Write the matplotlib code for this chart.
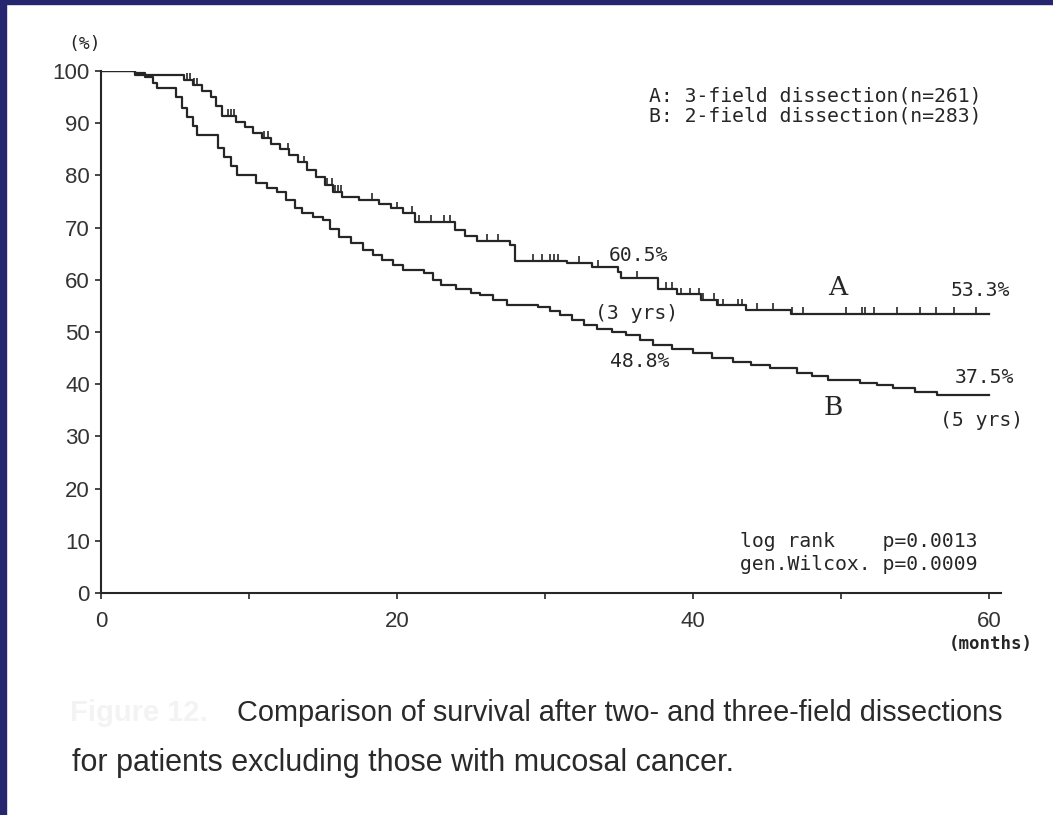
import matplotlib
matplotlib.use("Agg")
import matplotlib.pyplot as plt
import numpy as np

# survival curves (months, % surviving)

a_months = [0, 2.3, 5.6, 6.2, 6.8, 7.4, 7.8, 8.2, 9.1, 9.7, 10.3, 10.9, 11.5, 12.1,
            12.7, 13.3, 13.9, 14.5, 15.1, 15.7, 16.3, 17.4, 18.8, 19.6, 20.4, 21.2,
            23.9, 24.6, 25.4, 27.6, 28.0, 31.5, 33.2, 34.9, 35.1, 37.6, 38.9, 40.5,
            41.6, 43.6, 46.6, 60]
a_surv = [100, 99.2, 98.3, 97.4, 96.2, 95.0, 93.2, 91.4, 90.3, 89.2, 88.2, 87.2, 86.1, 85.0,
          83.9, 82.5, 81.0, 79.6, 78.2, 76.8, 75.9, 75.3, 74.6, 73.7, 72.8, 71.1,
          69.6, 68.3, 67.4, 66.7, 63.6, 63.2, 62.4, 61.5, 60.3, 58.3, 57.2, 56.1,
          55.1, 54.2, 53.5, 53.5]

b_months = [0, 2.3, 3.0, 3.5, 3.8, 5.1, 5.5, 5.8, 6.2, 6.5, 7.9, 8.3, 8.8, 9.2,
            10.5, 11.2, 11.9, 12.5, 13.1, 13.6, 14.3, 15.0, 15.5, 16.1, 16.9, 17.7,
            18.4, 19.0, 19.7, 20.4, 21.8, 22.4, 23.0, 24.0, 25.0, 25.6, 26.5, 27.4,
            29.5, 30.3, 31.0, 31.8, 32.6, 33.5, 34.5, 35.5, 36.4, 37.3, 38.6, 40.0,
            41.3, 42.7, 43.9, 45.2, 47.0, 48.0, 49.1, 51.3, 52.4, 53.5, 55.0, 56.5, 60]
b_surv = [100, 99.6, 98.8, 97.7, 96.7, 95.0, 93.0, 91.2, 89.5, 87.7, 85.2, 83.5, 81.8, 80.1,
          78.5, 77.6, 76.8, 75.2, 73.8, 72.8, 72.1, 71.5, 69.8, 68.2, 67.0, 65.7,
          64.7, 63.8, 62.8, 61.9, 61.3, 60.0, 59.0, 58.2, 57.5, 57.1, 56.2, 55.2,
          54.8, 54.0, 53.3, 52.3, 51.3, 50.6, 50.0, 49.4, 48.5, 47.5, 46.7, 46.0,
          45.1, 44.3, 43.7, 43.1, 42.1, 41.5, 40.8, 40.2, 39.8, 39.3, 38.6, 37.9, 37.9]

# censored observations on curve A
a_censor = [5.8, 6.0, 6.3, 6.5, 8.6, 8.8, 9.0, 11.0, 11.3, 12.6, 13.3, 13.7, 15.3, 15.6,
            15.8, 16.0, 16.2, 18.3, 20.0, 21.0, 21.5, 22.3, 23.2, 23.6, 26.1, 26.8, 29.2,
            29.8, 30.3, 30.6, 30.9, 32.3, 33.6, 36.2, 38.2, 38.6, 39.2, 39.8, 40.4,
            40.7, 41.4, 41.7, 42.0, 43.0, 43.3, 44.3, 45.4, 46.7, 47.4, 50.3, 51.4,
            51.6, 52.2, 53.8, 55.3, 56.4, 57.6, 59.1]

x_ticks = [0, 10, 20, 30, 40, 50, 60]
x_labels = ["0", "", "20", "", "40", "", "60"]
y_ticks = [0, 10, 20, 30, 40, 50, 60, 70, 80, 90, 100]

ink = "#262626"
mono = "DejaVu Sans Mono"
sans = "Liberation Sans"
mono_size = 14.2

fig = plt.figure(figsize=(10.53, 8.15), dpi=100, facecolor="white")

# navy frame on left and top
fig.patches.append(plt.Rectangle((0, 0), 6 / 1053, 1, transform=fig.transFigure,
                                 color="#262670", zorder=10))
fig.patches.append(plt.Rectangle((0, 1 - 4 / 815), 1, 4 / 815, transform=fig.transFigure,
                                 color="#262670", zorder=10))

ax = fig.add_axes([101 / 1053, 222 / 815, 900 / 1053, 522 / 815])
ax.step(a_months, a_surv, where="post", color=ink, lw=1.6)
ax.step(b_months, b_surv, where="post", color=ink, lw=1.6)

# censor ticks sit on the step value at each time
idx = np.searchsorted(a_months, a_censor, side="right") - 1
a_at = np.array(a_surv)[idx]
ax.vlines(a_censor, a_at, a_at + 1.3, color=ink, lw=1.2)

ax.set_xlim(0, 60.8)
ax.set_ylim(0, 100)
ax.spines["top"].set_visible(False)
ax.spines["right"].set_visible(False)
for s in ["left", "bottom"]:
    ax.spines[s].set_color(ink)
    ax.spines[s].set_linewidth(1.5)
ax.set_xticks(x_ticks)
ax.set_xticklabels(x_labels)
ax.set_yticks(y_ticks)
ax.tick_params(direction="out", length=4, width=1.2, color=ink, labelcolor="#333333",
               labelsize=16)
ax.tick_params(axis="x", pad=9)
ax.tick_params(axis="y", pad=4)
for lab in ax.get_xticklabels() + ax.get_yticklabels():
    lab.set_fontfamily(sans)

ax.text(-1.1, 105.2, "(%)", fontsize=13, family=mono, color=ink,
        ha="center", va="center", clip_on=False)
ax.text(60.1, -9.8, "(months)", fontsize=12.5, family=mono, color=ink, weight="bold",
        ha="center", va="center", clip_on=False)

ax.text(37.0, 95.2, "A: 3-field dissection(n=261)", fontsize=mono_size, family=mono,
        color=ink, ha="left", va="center")
ax.text(37.0, 91.4, "B: 2-field dissection(n=283)", fontsize=mono_size, family=mono,
        color=ink, ha="left", va="center")

ax.text(36.3, 64.6, "60.5%", fontsize=mono_size, family=mono, color=ink, ha="center", va="center")
ax.text(36.2, 53.6, "(3 yrs)", fontsize=mono_size, family=mono, color=ink, ha="center", va="center")
ax.text(36.4, 44.3, "48.8%", fontsize=mono_size, family=mono, color=ink, ha="center", va="center")
ax.text(59.4, 58.0, "53.3%", fontsize=mono_size, family=mono, color=ink, ha="center", va="center",
        clip_on=False)
ax.text(59.7, 41.2, "37.5%", fontsize=mono_size, family=mono, color=ink, ha="center", va="center",
        clip_on=False)
ax.text(59.5, 33.1, "(5 yrs)", fontsize=mono_size, family=mono, color=ink, ha="center",
        va="center", clip_on=False)
ax.text(49.8, 58.6, "A", fontsize=19, family="DejaVu Serif", color=ink, ha="center", va="center")
ax.text(49.5, 35.6, "B", fontsize=19, family="DejaVu Serif", color=ink, ha="center", va="center")

ax.text(43.2, 9.8, "log rank    p=0.0013", fontsize=mono_size, family=mono, color=ink,
        ha="left", va="center")
ax.text(43.2, 5.4, "gen.Wilcox. p=0.0009", fontsize=mono_size, family=mono, color=ink,
        ha="left", va="center")

# caption
fig.text(70 / 1053, 0.125, "Figure 12.", fontsize=21, family=sans, weight="bold",
         color="#f3f3f3", ha="left", va="center")
fig.text(237 / 1053, 0.125, "Comparison of survival after two- and three-field dissections",
         fontsize=20.8, family=sans, color="#2a2a2a", ha="left", va="center")
fig.text(72 / 1053, 0.064, "for patients excluding those with mucosal cancer.",
         fontsize=22, family=sans, color="#2a2a2a", ha="left", va="center")

fig.savefig("out.png", dpi=100, facecolor="white")
